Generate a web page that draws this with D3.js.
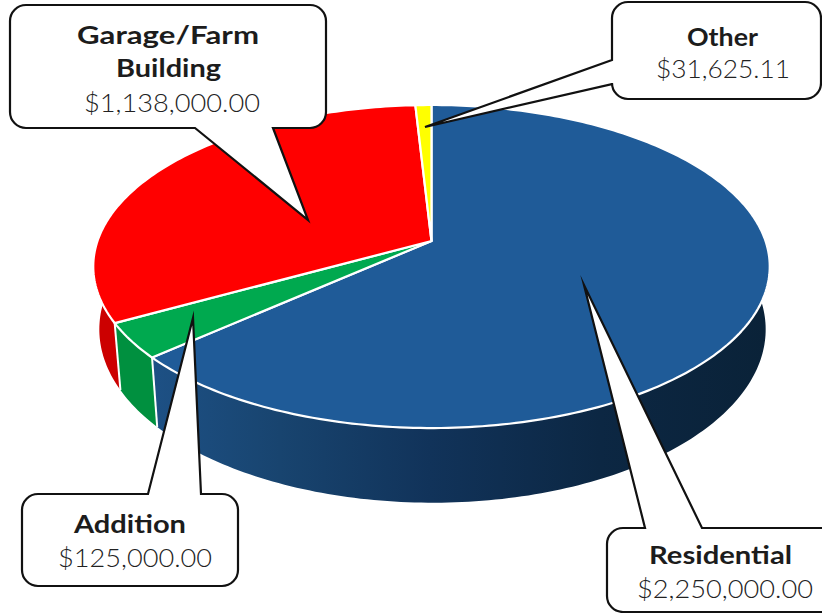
<!DOCTYPE html>
<html>
<head>
<meta charset="utf-8">
<style>
  html, body { margin: 0; padding: 0; background: #fff; }
  svg { display: block; }
  text { font-family: Lato, "Open Sans", sans-serif; text-anchor: start; }
  .name { font-weight: 700; fill: #1c1c1c; font-size: 25px; }
  .amount { font-weight: 300; fill: #222; font-size: 25px; }
</style>
<script src="https://cdnjs.cloudflare.com/ajax/libs/d3/7.8.5/d3.min.js"></script>
</head>
<body>
<script>
// Permit values by building type, clockwise from twelve o'clock.
const categories = ["Residential", "Addition", "Garage/Farm Building", "Other"];
const values = [2250000, 125000, 1138000, 31625.11];
const topColors = ["#1f5b98", "#00a94f", "#ff0000", "#ffff00"];
const sideColors = ["url(#blue-wall)", "#00903f", "#cc0000", "#cccc00"];

const W = 822, H = 613;
const svg = d3.select("body").append("svg").attr("width", W).attr("height", H);

// Perspective projection of the unit disc: the nearer edge of the pie looks
// larger, so the hub sits above the centre of the visible ellipse.
const plane = (cx, cy, a, b, k) => (angle, r = 1) => {
  const u = r * Math.sin(angle), v = -r * Math.cos(angle), w = 1 - k * v;
  return [cx + a * u / w, cy + b * v / w];
};
const topRim = plane(431.5, 241, 334, 157.5, 0.158);
const bottomRim = plane(432.5, 302, 329, 169, 0.158);

const slices = d3.pie().sort(null).startAngle(0).endAngle(2 * Math.PI)(values);
const line = d3.line();
const rad = d => d * Math.PI / 180;
const step = rad(1);
const sweep = (a0, a1) => {
  const n = Math.max(1, Math.ceil((a1 - a0) / step));
  return d3.range(n + 1).map(i => a0 + (a1 - a0) * i / n);
};

// Wall of the cylinder, lit from the left on the long blue run.
const wallStops = [
  { x: 157, color: "#1d5084" },
  { x: 280, color: "#18446f" },
  { x: 430, color: "#11335a" },
  { x: 600, color: "#0c2743" },
  { x: 765, color: "#0a2238" }
];
const wallX = d3.scaleLinear().domain([157, 765]).range([0, 1]);
svg.append("defs").append("linearGradient")
  .attr("id", "blue-wall")
  .attr("gradientUnits", "userSpaceOnUse")
  .attr("x1", 157).attr("x2", 765).attr("y1", 0).attr("y2", 0)
  .selectAll("stop").data(wallStops).join("stop")
  .attr("offset", d => wallX(d.x))
  .attr("stop-color", d => d.color);

// Each wall is one path of many quads, so the outline follows the silhouette
// between the two rims without seams between neighbouring quads.
const visibleFrom = rad(70), visibleTo = rad(290);
const walls = svg.append("g");
slices.forEach((s, i) => {
  const a0 = Math.max(s.startAngle, visibleFrom), a1 = Math.min(s.endAngle, visibleTo);
  if (a1 <= a0) return;
  const d = d3.pairs(sweep(a0, a1))
    .map(([p, q]) => line([topRim(p), topRim(q), bottomRim(q), bottomRim(p)]) + "Z")
    .join("");
  walls.append("path").attr("d", d).attr("fill", sideColors[i]);
});

// White seams where neighbouring slices meet on the wall.
slices.forEach(s => {
  if (s.startAngle > visibleFrom && s.startAngle < visibleTo) {
    walls.append("path")
      .attr("d", line([topRim(s.startAngle), bottomRim(s.startAngle)]))
      .attr("stroke", "#fff").attr("stroke-width", 2).attr("fill", "none");
  }
});

// Top faces.
svg.append("g").selectAll("path").data(slices).join("path")
  .attr("d", s => line([topRim(0, 0), ...sweep(s.startAngle, s.endAngle).map(a => topRim(a))]) + "Z")
  .attr("fill", (s, i) => topColors[i])
  .attr("stroke", "#fff")
  .attr("stroke-width", 2.2)
  .attr("stroke-linejoin", "round");

const money = d3.format("$,.2f");

// Speech-bubble labels: box, pointer base on one side, and pointer tip.
const callouts = [
  { i: 2, box: [10, 5, 326, 128], side: "bottom", base: [195, 273], tip: [308, 220],
    rows: [["Garage/Farm", 77, 44, 182, "name"], ["Building", 116, 77, 105, "name"], [null, 84, 112, 176, "amount"]] },
  { i: 3, box: [612, 2, 821, 99], side: "left", base: [60, 84], tip: [425, 127],
    rows: [["Other", 687, 46, 71, "name"], [null, 656, 78, 134, "amount"]] },
  { i: 1, box: [22, 494, 238, 586], side: "top", base: [148, 201], tip: [193, 318],
    rows: [["Addition", 74, 533, 112, "name"], [null, 58, 567, 154, "amount"]] },
  { i: 0, box: [607, 528, 840, 612], side: "top", base: [645, 702], tip: [584, 285],
    rows: [["Residential", 649, 564, 143, "name"], [null, 637, 598, 176, "amount"]] }
];

const bubblePath = ({ box: [x0, y0, x1, y1], side, base, tip }) => {
  const r = 16;
  const p = d3.path();
  p.moveTo(x0 + r, y0);
  if (side === "top") { p.lineTo(base[0], y0); p.lineTo(tip[0], tip[1]); p.lineTo(base[1], y0); }
  p.lineTo(x1 - r, y0);
  p.arcTo(x1, y0, x1, y0 + r, r);
  p.lineTo(x1, y1 - r);
  p.arcTo(x1, y1, x1 - r, y1, r);
  if (side === "bottom") { p.lineTo(base[1], y1); p.lineTo(tip[0], tip[1]); p.lineTo(base[0], y1); }
  p.lineTo(x0 + r, y1);
  p.arcTo(x0, y1, x0, y1 - r, r);
  if (side === "left") { p.lineTo(x0, base[1]); p.lineTo(tip[0], tip[1]); p.lineTo(x0, base[0]); }
  p.lineTo(x0, y0 + r);
  p.arcTo(x0, y0, x0 + r, y0, r);
  p.closePath();
  return p.toString();
};

callouts.forEach(c => {
  const g = svg.append("g");
  g.append("path")
    .attr("d", bubblePath(c))
    .attr("fill", "#fff")
    .attr("stroke", "#111")
    .attr("stroke-width", 2.2)
    .attr("stroke-linejoin", "miter")
    .attr("stroke-miterlimit", 12);
  c.rows.forEach(([label, x, y, width, cls]) => {
    g.append("text")
      .attr("class", cls)
      .attr("x", x).attr("y", y)
      .attr("textLength", width)
      .attr("lengthAdjust", "spacingAndGlyphs")
      .text(label === null ? money(values[c.i]) : label);
  });
});
</script>
</body>
</html>
